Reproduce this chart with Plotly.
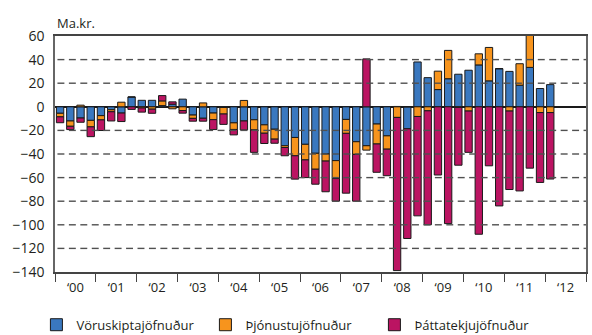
import plotly.graph_objects as go

# Quarterly current-account components, ma.kr., 2000 Q1 - 2012 Q1
years = list(range(2000, 2013))
year_labels = ["‘00", "‘01", "‘02", "‘03", "‘04", "‘05", "‘06",
               "‘07", "‘08", "‘09", "‘10", "‘11", "‘12"]
y_ticks = list(range(-140, 61, 20))

voruskipti = [
    -5.5, -12, -9.5, -11.5,      # 2000
    -7.5, -2.5, -5.3, 8.3,       # 2001
    5.5, 5.5, 1, 2.2,            # 2002
    6.5, -7, -9.7, -5.3,         # 2003
    -0.6, -13.6, -12, -11,       # 2004
    -15.3, -19, -33, -26,        # 2005
    -31.8, -39.4, -40, -45.6,    # 2006
    -10.7, -29.6, -33, -14.6,    # 2007
    -24.6, 0.3, -18.6, 38,       # 2008
    24.7, 14.6, 23.8, 27.6,      # 2009
    31, 35.5, 22, 32.3,          # 2010
    30, 18.3, 33.4, 15.5,        # 2011
    18.8,                        # 2012
]
thjonusta = [
    -3, -4.5, 1.4, -5.5,
    -3.6, -1.7, 3.9, 0,
    -1, -2, 4, -1.7,
    -3.2, -2.8, 3.3, -5.6,
    -5.5, -5.6, 5.4, -8.6,
    -7.1, -8.4, -1.5, -15.5,
    -13.2, -13.5, -6, -15.2,
    -11.8, -10.7, -3.7, -16.9,
    -11.3, -9, 0, -8.2,
    -3.4, 15.6, 24, -0.5,
    -3.6, 9.4, 28.3, 0,
    -3.6, 18.2, 28, -4.9,
    -4.9,
]
thattatekjur = [
    -5, -2.8, -3.6, -8.3,
    -9, -7.8, -7.2, -2.2,
    -3.5, -3.5, 4.5, 2,
    -2.2, -2.4, -2.5, -8.4,
    -8.8, -4.6, -7.6, -19,
    -8.7, -3.5, -7, -19.8,
    -15, -12.7, -26, -19.2,
    -50.7, -39.7, 40.6, -24,
    -22.5, -129.8, -93, -84.2,
    -96.6, -57.8, -99, -49,
    -35, -108, -50, -84,
    -66.5, -71.3, -52, -59.2,
    -56.3,
]

# position of each quarter in decimal years (bar centred in its quarter)
x_pos = [2000 + (i + 0.5) / 4 for i in range(len(voruskipti))]

series = [
    ("Vöruskiptajöfnuður", voruskipti, "#3a78bf"),
    ("Þjónustujöfnuður", thjonusta, "#f7941d"),
    ("Þáttatekjujöfnuður", thattatekjur, "#bb1462"),
]

FONT = "Open Sans"
TXT = "#231f20"
X_RANGE = [2000, 2013]

fig = go.Figure()

# dashed horizontal guides at the inner y ticks, built from short segments
DASH, GAP = 0.17, 0.11          # in years along the x axis
gx, gy = [], []
for v in (t for t in y_ticks if t not in (-140, 0, 60)):
    s = X_RANGE[0] + 0.06
    while s < X_RANGE[1]:
        gx += [s, min(s + DASH, X_RANGE[1]), None]
        gy += [v, v, None]
        s += DASH + GAP
fig.add_trace(go.Scatter(
    x=gx, y=gy, mode="lines", showlegend=False, hoverinfo="skip",
    connectgaps=False, line=dict(color="#505050", width=1.4),
))

for name, vals, col in series:
    fig.add_trace(go.Bar(
        x=x_pos, y=vals, name=name, width=0.18,
        marker=dict(color=col, line=dict(color="#1a1a1a", width=1)),
    ))

fig.update_layout(
    width=592, height=335,
    margin=dict(l=55, r=6, t=36, b=63, autoexpand=False),
    barmode="relative",
    plot_bgcolor="white", paper_bgcolor="white",
    font=dict(family=FONT, size=13, color=TXT),
    showlegend=True,
    legend=dict(
        orientation="h", x=-0.035, xanchor="left", y=-0.16, yanchor="top",
        entrywidth=124, entrywidthmode="pixels",
        font=dict(family=FONT, size=13, color=TXT),
        traceorder="normal",
    ),
    annotations=[dict(
        text="Ma.kr.", xref="paper", yref="paper", x=0, y=1.0,
        xanchor="left", yanchor="bottom", yshift=2, showarrow=False,
        font=dict(family=FONT, size=13, color=TXT),
    )],
)

fig.update_xaxes(
    range=X_RANGE,
    tickmode="array",
    tickvals=[y + 0.5 for y in years],
    ticktext=year_labels,
    ticks="", showgrid=False, zeroline=False,
    showline=True, linecolor="#444", linewidth=1.5, mirror=True,
    ticklabelstandoff=3,
    tickfont=dict(family=FONT, size=13, color=TXT),
    minor=dict(tickmode="array", tickvals=years + [2013], ticks="outside",
               ticklen=8, tickwidth=1.2, tickcolor="#444", showgrid=False),
)

fig.update_yaxes(
    range=[-140, 60], tickmode="array", tickvals=y_ticks,
    showgrid=False,
    zeroline=True, zerolinecolor="#1a1a1a", zerolinewidth=1.5,
    showline=True, linecolor="#666", linewidth=1.5, mirror=True,
    ticks="", ticklabelstandoff=6,
    tickfont=dict(family=FONT, size=14, color=TXT),
)

fig.write_html("out.html")
